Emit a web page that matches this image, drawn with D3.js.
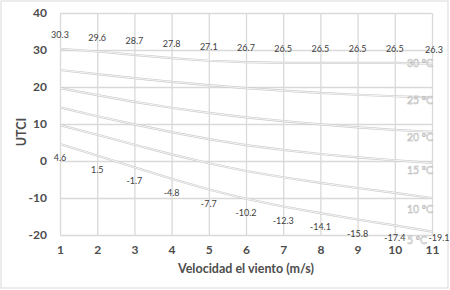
<!DOCTYPE html>
<html>
<head>
<meta charset="utf-8">
<script src="https://cdn.jsdelivr.net/npm/d3@7"></script>
<style>
  html, body { margin: 0; padding: 0; background: #fff; }
  svg { display: block; }
  text { font-family: Lato, "Open Sans", sans-serif; }
</style>
</head>
<body>
<svg id="chart" width="450" height="290"></svg>
<script>
// ---- data ----
const windSpeeds = [1, 2, 3, 4, 5, 6, 7, 8, 9, 10, 11];
const seriesNames = ["30 ºC", "25 ºC", "20 ºC", "15 ºC", "10 ºC", "5 ºC"];
const utci30 = [30.3, 29.6, 28.7, 27.8, 27.1, 26.7, 26.5, 26.5, 26.5, 26.5, 26.3];
const utci25 = [24.6, 23.5, 22.4, 21.4, 20.5, 19.7, 19.0, 18.4, 17.9, 17.5, 17.2];
const utci20 = [19.7, 17.8, 16.0, 14.4, 13.0, 11.8, 10.8, 9.9, 9.1, 8.4, 7.9];
const utci15 = [14.5, 12.1, 9.9, 7.8, 5.9, 4.3, 3.0, 1.9, 1.0, 0.2, -0.5];
const utci10 = [9.7, 7.1, 4.4, 1.8, -0.6, -2.7, -4.4, -5.9, -7.3, -8.6, -10.0];
const utci5 = [4.6, 1.5, -1.7, -4.8, -7.7, -10.2, -12.3, -14.1, -15.8, -17.4, -19.1];
const yTicks = [-20, -10, 0, 10, 20, 30, 40];
const xTicks = [1, 2, 3, 4, 5, 6, 7, 8, 9, 10, 11];
const xTitle = "Velocidad el viento (m/s)";
const yTitle = "UTCI";

const allSeries = [utci30, utci25, utci20, utci15, utci10, utci5];
const labelOffsets = [0, 3, 6, 7, 11, 9];
const labelShiftX = [0, 0, 0, 0, 0, -6];

// ---- layout ----
const svg = d3.select("#chart");
const W = 450, H = 290;
const plot = { left: 60, right: 432, top: 13, bottom: 235 };

svg.append("rect")
  .attr("x", 1).attr("y", 1).attr("width", W - 3).attr("height", H - 3)
  .attr("fill", "#fff").attr("stroke", "#d9d9d9").attr("stroke-width", 1);

const x = d3.scaleLinear().domain([1, 11]).range([plot.left, plot.right]);
const y = d3.scaleLinear().domain([-20, 40]).range([plot.bottom, plot.top]);

const hy = s => String(s).replace("\u2212", "-");
const fmtInt = d => hy(d3.format("d")(d));
const fmt = d => hy(d3.format(".1f")(d));

// gridlines
const gx = svg.append("g")
  .attr("transform", `translate(0,${plot.bottom})`)
  .call(d3.axisBottom(x).tickValues(xTicks).tickSize(-(plot.bottom - plot.top)).tickFormat(""));
gx.select(".domain").remove();
gx.selectAll("line").attr("stroke", "#d9d9d9").attr("stroke-width", 1.3);

const gy = svg.append("g")
  .attr("transform", `translate(${plot.left},0)`)
  .call(d3.axisLeft(y).tickValues(yTicks).tickSize(-(plot.right - plot.left)).tickFormat(""));
gy.select(".domain").remove();
gy.selectAll("line").attr("stroke", "#d9d9d9").attr("stroke-width", 1.3);

// tick labels
const axY = svg.append("g")
  .attr("transform", `translate(${plot.left},0)`)
  .call(d3.axisLeft(y).tickValues(yTicks).tickSize(0).tickPadding(13).tickFormat(fmtInt));
axY.select(".domain").remove();
axY.selectAll("text")
  .attr("fill", "#4d4d4d").style("font-size", "12px").style("font-weight", "bold")
  .style("font-family", "Lato, sans-serif");

const axX = svg.append("g")
  .attr("transform", `translate(0,${plot.bottom})`)
  .call(d3.axisBottom(x).tickValues(xTicks).tickSize(0).tickPadding(10).tickFormat(fmtInt));
axX.select(".domain").remove();
axX.selectAll("text")
  .attr("fill", "#4d4d4d").style("font-size", "12px").style("font-weight", "bold")
  .style("font-family", "Lato, sans-serif");

// axis titles
svg.append("text")
  .attr("x", (plot.left + plot.right) / 2).attr("y", 273)
  .attr("text-anchor", "middle").attr("fill", "#4d4d4d")
  .style("font-size", "12.5px").style("font-weight", "bold")
  .text(xTitle);

svg.append("text")
  .attr("transform", `translate(26,${132}) rotate(-90)`)
  .attr("text-anchor", "middle").attr("fill", "#4d4d4d")
  .style("font-size", "12.5px").style("font-weight", "bold")
  .text(yTitle);

// lines (double-stroke look)
const line = d3.line().x((d, i) => x(windSpeeds[i])).y(d => y(d));
const linesG = svg.append("g");
allSeries.forEach(s => {
  linesG.append("path").datum(s).attr("d", line)
    .attr("fill", "none").attr("stroke", "#cacaca").attr("stroke-width", 2.2);
  linesG.append("path").datum(s).attr("d", line)
    .attr("fill", "none").attr("stroke", "#ffffff").attr("stroke-width", 0.8);
});

// series name labels at the right end (outlined text)
allSeries.forEach((s, k) => {
  svg.append("text")
    .attr("x", x(11) + 1 + labelShiftX[k]).attr("y", y(s[s.length - 1]) + labelOffsets[k])
    .attr("dy", "0.35em").attr("text-anchor", "end")
    .attr("fill", "#ffffff").attr("stroke", "#b3b3b3").attr("stroke-width", 0.5)
    .style("font-size", "10.5px")
    .text(seriesNames[k]);
});

// data labels
svg.append("g").selectAll("text").data(utci30).join("text")
  .attr("x", (d, i) => x(windSpeeds[i]) + (i === 10 ? 2 : 0))
  .attr("y", d => y(d) - 14).attr("dy", "0.35em")
  .attr("text-anchor", "middle").attr("fill", "#404040")
  .style("font-size", "9px")
  .text(d => fmt(d));

svg.append("g").selectAll("text").data(utci5).join("text")
  .attr("x", (d, i) => x(windSpeeds[i]) + (i === 10 ? 7 : 0))
  .attr("y", (d, i) => y(d) + (i === 10 ? 6 : i === 9 ? 12 : 14)).attr("dy", "0.35em")
  .attr("text-anchor", "middle").attr("fill", "#404040")
  .style("font-size", "9px")
  .text(d => fmt(d));
</script>
</body>
</html>
